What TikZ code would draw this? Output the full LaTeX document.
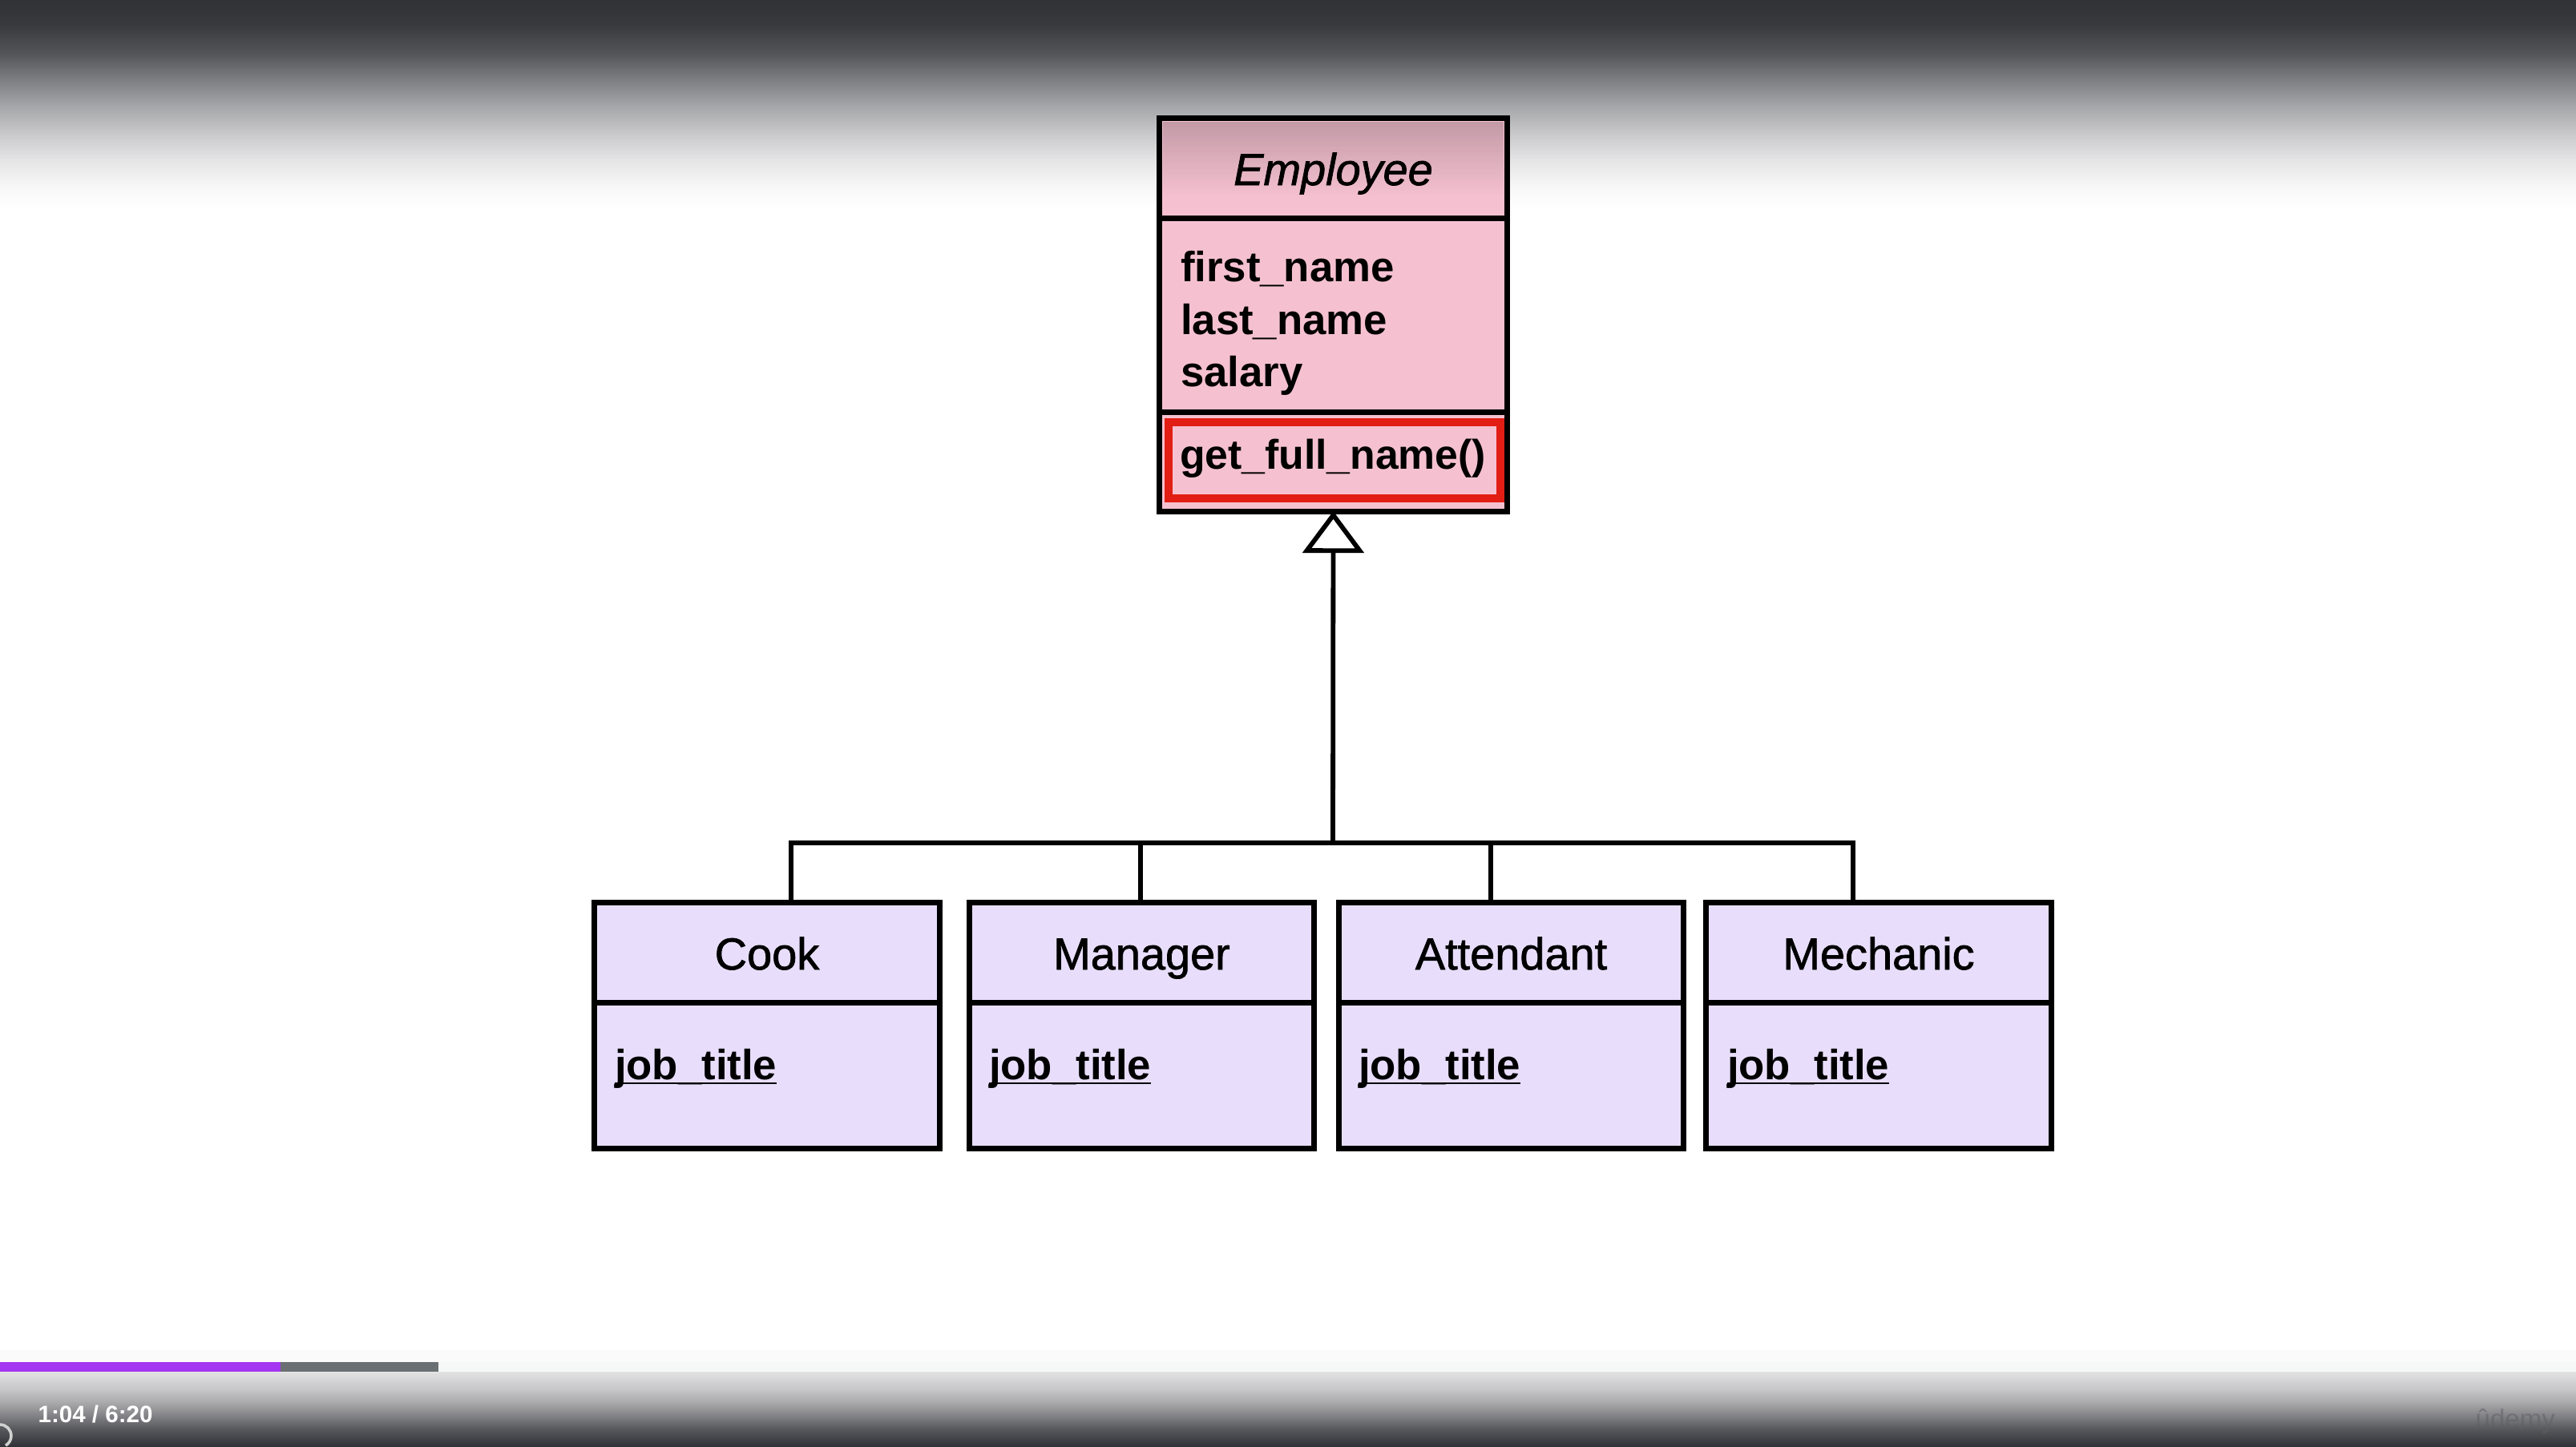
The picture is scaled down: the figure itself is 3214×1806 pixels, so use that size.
\documentclass[tikz,border=0pt]{standalone}
\usepackage{fontspec}
\setmainfont{Liberation Sans}
\newfontfamily\medfont[FakeBold=1.3]{Liberation Sans}
\usetikzlibrary{arrows.meta,fadings}
\definecolor{pinkc}{RGB}{245,193,209}
\definecolor{lav}{RGB}{232,222,251}
\definecolor{redc}{RGB}{226,30,20}
\definecolor{udpurple}{RGB}{164,53,240}
\definecolor{udgray}{RGB}{106,111,115}
\definecolor{barlight}{RGB}{246,247,247}
\definecolor{tA}{RGB}{48,50,54}
\definecolor{tB}{RGB}{56,57,61}
\definecolor{tC}{RGB}{84,85,89}
\definecolor{tD}{RGB}{126,127,130}
\definecolor{tE}{RGB}{166,167,169}
\definecolor{tF}{RGB}{201,201,203}
\definecolor{tG}{RGB}{229,229,230}
\definecolor{tH}{RGB}{247,247,247}
\definecolor{bA}{RGB}{226,226,227}
\definecolor{bB}{RGB}{200,200,202}
\definecolor{bC}{RGB}{170,170,172}
\definecolor{bD}{RGB}{130,130,134}
\definecolor{bE}{RGB}{88,89,93}
\definecolor{bF}{RGB}{48,49,54}
\definecolor{wmark}{RGB}{95,96,101}
\pgfdeclareverticalshading{topbg}{100bp}{color(0bp)=(white); color(25bp)=(white); color(30.2bp)=(tH); color(36.5bp)=(tG); color(42.9bp)=(tF); color(49.4bp)=(tE); color(55.8bp)=(tD); color(62.1bp)=(tC); color(69.2bp)=(tB); color(75bp)=(tA); color(100bp)=(tA)}
\pgfdeclareverticalshading{botbg}{100bp}{color(0bp)=(bF); color(25bp)=(bF); color(37.2bp)=(bE); color(45.7bp)=(bD); color(54.8bp)=(bC); color(63.8bp)=(bB); color(75bp)=(bA); color(100bp)=(bA)}
\tikzfading[name=hdrfade, top color=transparent!80, bottom color=transparent!100]
\tikzset{
  box/.style={draw=black, line width=0.07cm, inner sep=0pt, outer sep=0pt, minimum width=4.33cm},
  subbox/.style={box, fill=lav, minimum width=4.30cm},
  hdr/.style={font=\medfont\fontsize{15.9pt}{19pt}\selectfont, text height=0.41cm, text depth=0cm},
  attr/.style={anchor=base west, inner sep=0pt, outer sep=0pt, font=\bfseries\fontsize{15pt}{18pt}\selectfont},
  conn/.style={draw=black, line width=0.058cm},
  uline/.style={draw=black, line width=0.028cm}
}
\begin{document}
\begin{tikzpicture}[x=0.01cm,y=-0.01cm]
\useasboundingbox (0,0) rectangle (3214,1806);
\fill[white] (0,0) rectangle (3214,1806);
% top gradient
\shade[shading=topbg] (0,0) rectangle (3214,260);
% bottom player area
\fill[white!98!black] (0,1685) rectangle (3214,1700);
\fill[barlight] (0,1700) rectangle (3214,1712);
\fill[udgray] (0,1700) rectangle (547,1712);
\fill[udpurple] (0,1700) rectangle (350,1712);
\shade[shading=botbg] (0,1712) rectangle (3214,1806);
\draw[draw=white!82!black, line width=0.035cm] (0,1778) arc[start angle=-90, end angle=60, radius=14];
\node[anchor=base west, inner sep=0pt, text=white, font=\bfseries\fontsize{8.4pt}{10pt}\selectfont] (time) at (47,1775) {1:04 / 6:20};
\node[anchor=base west, inner sep=0pt, text=wmark, opacity=0.55, font=\fontsize{9.4pt}{11pt}\selectfont] (wm) at (3088,1782) {ûdemy};

% Employee class
\node[box, fill=pinkc, minimum height=1.25cm, hdr] (empH) at (1663.5,210.5) {\itshape Employee};
\fill[black, path fading=hdrfade] (1451,152) rectangle (1876,245);
\node[box, fill=pinkc, minimum height=2.42cm] (empA) at (1663.5,394) {};
\node[box, fill=pinkc, minimum height=1.23cm] (empM) at (1663.5,576.5) {};
\node[draw=redc, line width=0.1cm, inner sep=0pt, outer sep=0pt, minimum width=4.14cm, minimum height=0.95cm] (redM) at (1665,574.5) {};
\node[attr] (fn) at (1473,352) {first\_name};
\node[attr] (ln) at (1473,417) {last\_name};
\node[attr] (sal) at (1473,482) {salary};
\node[attr, font=\bfseries\fontsize{14.7pt}{18pt}\selectfont] (gfn) at (1472,585) {get\_full\_name()};

% subclasses
\foreach \nm/\cx/\lbl in {cook/957/Cook, man/1424.5/Manager, att/1885.5/Attendant, mech/2344/Mechanic}{
  \node[subbox, minimum height=1.25cm, hdr] (\nm H) at (\cx,1189.5) {\lbl};
  \node[subbox, minimum height=1.81cm] (\nm B) at (\cx,1342.5) {};
}
\foreach \nm/\lx in {cook/767, man/1234, att/1695, mech/2155}{
  \node[attr] (\nm J) at (\lx,1347) {job\_title};
  \draw[uline] ([yshift=-0.05cm]\nm J.base west) -- ([yshift=-0.05cm]\nm J.base east);
}

% connectors
\coordinate (bar) at (1663,1052);
\coordinate (jcook) at (987,1052);
\coordinate (jman) at (1423,1052);
\coordinate (jatt) at (1860,1052);
\coordinate (jmech) at (2312,1052);
\draw[conn] (jcook |- cookH.north) -- (jcook) -- (jmech) -- (jmech |- mechH.north);
\draw[conn] (jman) -- (jman |- manH.north);
\draw[conn] (jatt) -- (jatt |- attH.north);
\draw[conn, -{Triangle[open, length=0.52cm, width=0.76cm, line width=0.058cm]}] (bar) -- (empM.south);
\end{tikzpicture}
\end{document}
